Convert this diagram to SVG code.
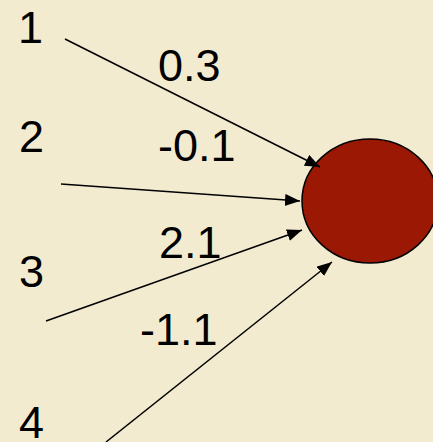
<svg xmlns="http://www.w3.org/2000/svg" width="433" height="442" viewBox="0 0 433 442">
<style>
.t{font-family:"Liberation Sans",Arial,sans-serif;font-size:45px;fill:#000}
.c{stroke:#000;stroke-width:1.5;fill:none;marker-end:url(#ah)}
</style>
<defs>
<marker id="ah" markerUnits="userSpaceOnUse" markerWidth="16" markerHeight="14" refX="15" refY="6" orient="auto">
<path d="M0,0 L15,6 L0,12 Z" fill="#000"/>
</marker>
</defs>
<rect width="433" height="442" fill="#f2ebd0"/>
<g id="neuron"><ellipse cx="370" cy="201" rx="68" ry="62" fill="#9a1804" stroke="#000" stroke-width="1.5"/></g>
<g id="in1"><text class="t" x="18" y="43">1</text></g>
<g id="in2"><text class="t" x="19" y="152">2</text></g>
<g id="in3"><text class="t" x="19" y="287">3</text></g>
<g id="in4"><text class="t" x="19" y="438">4</text></g>
<g id="connectors">
<line class="c" x1="65" y1="39" x2="320" y2="167"/>
<line class="c" x1="61" y1="184" x2="300" y2="201"/>
<line class="c" x1="46" y1="321" x2="302" y2="230"/>
<line class="c" x1="106" y1="442" x2="332" y2="262"/>
</g>
<g id="labels">
<text class="t" x="158" y="81">0.3</text>
<text class="t" x="158" y="161">-0.1</text>
<text class="t" x="159" y="258">2.1</text>
<text class="t" x="140" y="345">-1.1</text>
</g>
</svg>
